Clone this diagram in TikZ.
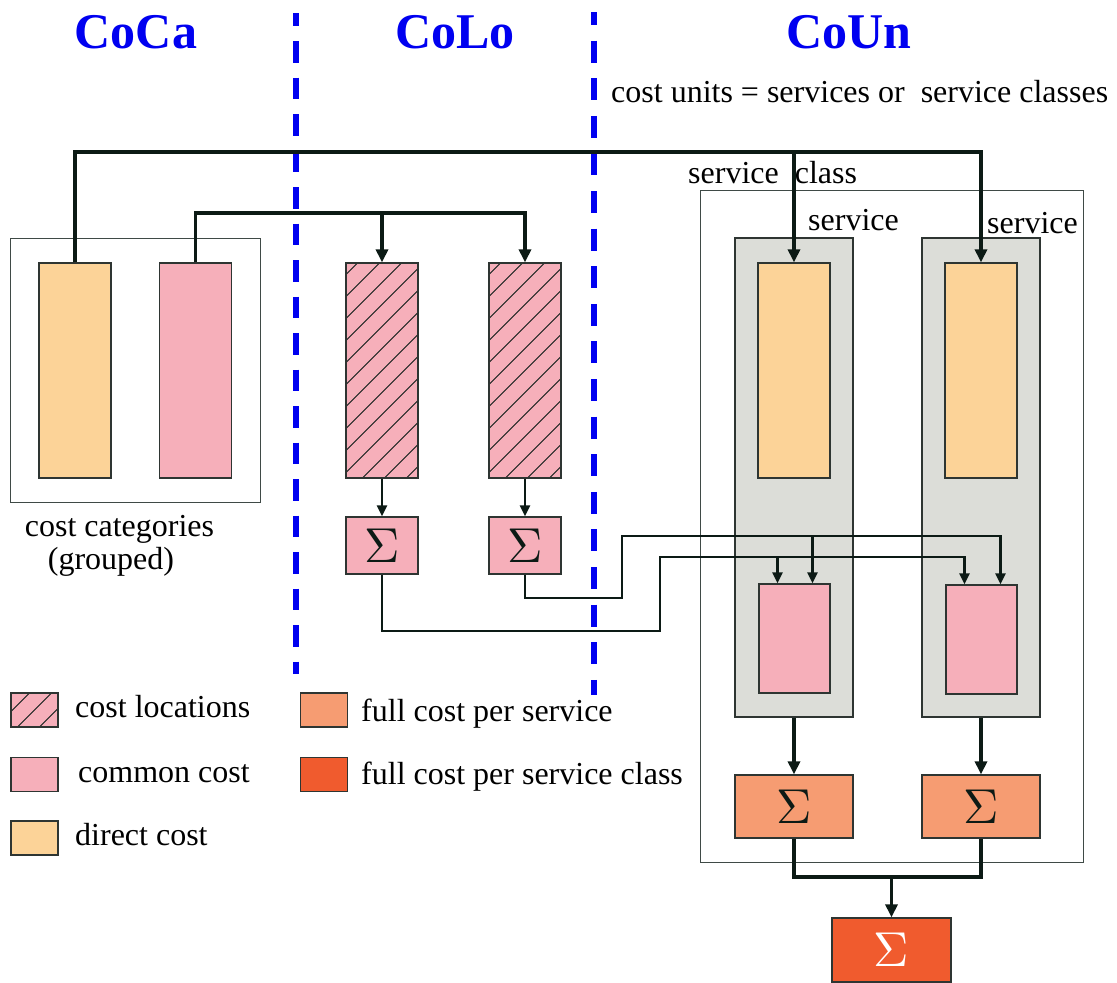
\documentclass[tikz,border=0pt]{standalone}
\usepackage{fontspec}
\setmainfont{Liberation Serif}
\usetikzlibrary{arrows.meta,calc}

\definecolor{directc}{HTML}{FCD398}
\definecolor{commonc}{HTML}{F6AFBA}
\definecolor{svcgray}{HTML}{DCDDD8}
\definecolor{fullsvc}{HTML}{F69C72}
\definecolor{fullcls}{HTML}{F05B2E}
\definecolor{linec}{HTML}{0C1A15}
\definecolor{edgec}{HTML}{2E3532}
\definecolor{framec}{HTML}{3F4A46}
\definecolor{headc}{HTML}{0000F0}

\newcommand{\sumsign}{\scalebox{4.9}{$\Sigma$}}

\tikzset{
  txt/.style={font=\fontsize{32}{36}\selectfont, inner sep=0pt, text=black},
  head/.style={font=\fontsize{50}{56}\selectfont\bfseries, inner sep=0pt, text=headc, anchor=base},
  divider/.style={draw=headc, line width=6pt},
  frame/.style={draw=framec, line width=1pt, inner sep=0pt},
  cbox/.style={draw=edgec, line width=1.3pt, inner sep=0pt},
  bar/.style={cbox, minimum width=72pt, minimum height=215pt},
  direct/.style={fill=directc},
  common/.style={fill=commonc},
  hatched/.style={fill=commonc, path picture={
      \foreach \k in {-9,...,9}
        \draw[line width=0.9pt, draw=linec]
          ([xshift=\k*22pt]path picture bounding box.center)
          ++(-160pt,-160pt) -- ++(320pt,320pt);}},
  sumbox/.style={cbox, text=linec},
  legbox/.style={cbox, minimum width=47pt, minimum height=34pt},
  thickline/.style={draw=linec, line width=3.3pt},
  thickarrow/.style={thickline, -{Triangle[width=12pt,length=13pt]}},
  thinarrow/.style={draw=linec, line width=2.2pt, -{Triangle[width=10pt,length=11pt]}},
}

\begin{document}
\begin{tikzpicture}[x=1pt,y=-1pt]
\useasboundingbox (0,0) rectangle (1117,983);

% column headings and dividers
\node[head] (hCoCa) at (136,48) {CoCa};
\node[head] (hCoLo) at (455,48) {CoLo};
\node[head] (hCoUn) at (849,48) {CoUn};
\draw[divider, dash pattern=on 21.5pt off 15pt, dash phase=8.5pt] (296,13) -- (296,674);
\draw[divider, dash pattern=on 22pt off 15.6pt, dash phase=9pt] (594,12) -- (594,695);

\node[txt, anchor=base west] (units) at (611,102) {cost units = services or\ \ service classes};

% cost categories
\node[frame, minimum width=250pt, minimum height=264pt] (coca) at (135,370) {};
\node[bar, direct] (dA) at (75,370.5) {};
\node[bar, common] (cA) at (195.5,370.5) {};
\node[txt, anchor=base] (catA) at (119.5,536) {cost categories};
\node[txt, anchor=base] (catB) at (111,569) {(grouped)};

% cost locations
\node[bar, hatched] (loc1) at (382,370.5) {};
\node[bar, hatched] (loc2) at (525,370.5) {};
\node[sumbox, common, minimum width=72pt, minimum height=57pt] (sum1) at (382,545.5) {\sumsign};
\node[sumbox, common, minimum width=72pt, minimum height=57pt] (sum2) at (525,545.5) {\sumsign};

% cost units: one service class with two services
\node[frame, minimum width=383pt, minimum height=672pt] (cls) at (891.5,526) {};
\node[txt, anchor=base west] (clsL) at (688,183) {service\ \ class};
\node[cbox, fill=svcgray, minimum width=118pt, minimum height=479pt] (svc1) at (794,477.5) {};
\node[cbox, fill=svcgray, minimum width=118pt, minimum height=479pt] (svc2) at (981,477.5) {};
\node[txt, anchor=base west] (svc1L) at (808,230) {service};
\node[txt, anchor=base west] (svc2L) at (987,233) {service};
\node[bar, direct] (d1) at (794,370.5) {};
\node[bar, direct] (d2) at (981,370.5) {};
\node[cbox, common, minimum width=71pt, minimum height=109pt] (c1) at (794.5,638.5) {};
\node[cbox, common, minimum width=71pt, minimum height=109pt] (c2) at (981.5,639.5) {};
\node[sumbox, fill=fullsvc, minimum width=118pt, minimum height=63pt] (full1) at (794,806.5) {\sumsign};
\node[sumbox, fill=fullsvc, minimum width=118pt, minimum height=63pt] (full2) at (981,806.5) {\sumsign};
\node[sumbox, fill=fullcls, text=white, minimum width=119pt, minimum height=64pt] (total) at (891.5,950) {\sumsign};

% direct and common cost distribution
\coordinate (busA) at (0,152);
\coordinate (busB) at (0,213);
\draw[thickarrow] (dA.north) |- (busA -| d2.north) -- (d2.north);
\draw[thickarrow] (busA -| d1.north) -- (d1.north);
\draw[thickarrow] (cA.north) |- (busB -| loc2.north) -- (loc2.north);
\draw[thickarrow] (busB -| loc1.north) -- (loc1.north);

% sums of cost locations
\draw[thinarrow] (loc1.south) -- (sum1.north);
\draw[thinarrow] (loc2.south) -- (sum2.north);

% allocation of cost locations to services
\coordinate (jA) at (660,631);
\coordinate (jB) at (660,557);
\coordinate (kA) at (622,598);
\coordinate (kB) at (622,536);
\draw[thinarrow] (sum1.south) |- (jA) -- (jB) -| ([xshift=-17pt]c2.north);
\draw[thinarrow] ([xshift=-17pt]c1.north |- jB) -- ([xshift=-17pt]c1.north);
\draw[thinarrow] (sum2.south) |- (kA) -- (kB) -| ([xshift=19pt]c2.north);
\draw[thinarrow] ([xshift=18pt]c1.north |- kB) -- ([xshift=18pt]c1.north);

% full cost
\draw[thickarrow] (svc1.south) -- (full1.north);
\draw[thickarrow] (svc2.south) -- (full2.north);
\coordinate (mg) at (0,877);
\draw[thickline] (full1.south) |- (mg -| full2.south) -- (full2.south);
\draw[thickarrow] (mg -| total.north) -- (total.north);

% legend
\node[legbox, hatched] (lgLoc) at (34.5,710) {};
\node[legbox, common] (lgCom) at (34.5,774.5) {};
\node[legbox, direct] (lgDir) at (34.5,838) {};
\node[legbox, fill=fullsvc] (lgSvc) at (324,710) {};
\node[legbox, fill=fullcls] (lgCls) at (324,774.5) {};
\node[txt, anchor=base west] (tLoc) at (75,717) {cost locations};
\node[txt, anchor=base west] (tCom) at (78,782) {common cost};
\node[txt, anchor=base west] (tDir) at (75,845) {direct cost};
\node[txt, anchor=base west] (tSvc) at (361,721) {full cost per service};
\node[txt, anchor=base west] (tCls) at (361,784) {full cost per service class};
\end{tikzpicture}
\end{document}
